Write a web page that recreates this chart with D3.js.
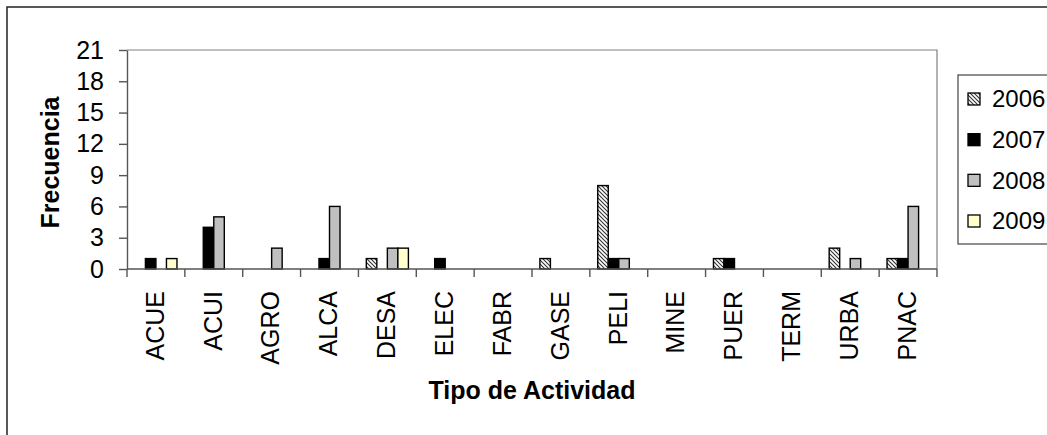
<!DOCTYPE html>
<html>
<head>
<meta charset="utf-8">
<script src="https://cdn.jsdelivr.net/npm/d3@7"></script>
<style>
  html, body { margin: 0; padding: 0; background: #fff; }
  svg { display: block; font-family: "Liberation Sans", Arial, sans-serif; }
</style>
</head>
<body>
<svg id="chart" width="1047" height="435"></svg>
<script>
// Activity codes along the x axis
const categories = ["ACUE", "ACUI", "AGRO", "ALCA", "DESA", "ELEC", "FABR",
                    "GASE", "PELI", "MINE", "PUER", "TERM", "URBA", "PNAC"];
const years = ["2006", "2007", "2008", "2009"];

// Frequency per activity, one array per year
const values2006 = [0, 0, 0, 0, 1, 0, 0, 1, 8, 0, 1, 0, 2, 1];
const values2007 = [1, 4, 0, 1, 0, 1, 0, 0, 1, 0, 1, 0, 0, 1];
const values2008 = [0, 5, 2, 6, 2, 0, 0, 0, 1, 0, 0, 0, 1, 6];
const values2009 = [1, 0, 0, 0, 2, 0, 0, 0, 0, 0, 0, 0, 0, 0];

const yTicks = [0, 3, 6, 9, 12, 15, 18, 21];

const seriesValues = { "2006": values2006, "2007": values2007, "2008": values2008, "2009": values2009 };
const fills = { "2006": "url(#hatch2006)", "2007": "#000000", "2008": "#C0C0C0", "2009": "#FFFFCC" };

const svg = d3.select("#chart");
const plot = { left: 127, right: 937, top: 50, bottom: 269 };

// Diagonal hatch for 2006
const defs = svg.append("defs");
const pat = defs.append("pattern")
  .attr("id", "hatch2006")
  .attr("patternUnits", "userSpaceOnUse")
  .attr("width", 4).attr("height", 4);
pat.append("rect").attr("width", 4).attr("height", 4).attr("fill", "#fff");
pat.append("path")
  .attr("d", "M0,0 L4,4 M-1,3 L1,5 M3,-1 L5,1")
  .attr("stroke", "#333").attr("stroke-width", 1.1);

// Chart area border
svg.append("rect")
  .attr("x", 7).attr("y", 7).attr("width", 1060).attr("height", 440)
  .attr("fill", "none").attr("stroke", "#222").attr("stroke-width", 1.5);

const x = d3.scaleBand().domain(categories).range([plot.left, plot.right]).padding(0);
const bw = x.bandwidth();
const inner = bw * 0.75 / 5.5;
const xs = d3.scaleBand().domain(years).range([inner, bw - inner]).padding(0);
const y = d3.scaleLinear().domain([0, 21]).range([plot.bottom, plot.top]);

// Plot area frame (top and right)
svg.append("path")
  .attr("d", `M${plot.left},${plot.top}H${plot.right}V${plot.bottom}`)
  .attr("fill", "none").attr("stroke", "#808080").attr("stroke-width", 1.2);

// Bars
const barData = [];
categories.forEach((c, i) => {
  years.forEach(yr => {
    const v = seriesValues[yr][i];
    if (v > 0) barData.push({ cat: c, year: yr, value: v });
  });
});
svg.append("g").selectAll("rect")
  .data(barData)
  .join("rect")
  .attr("x", d => x(d.cat) + xs(d.year))
  .attr("y", d => y(d.value))
  .attr("width", xs.bandwidth())
  .attr("height", d => y(0) - y(d.value))
  .attr("fill", d => fills[d.year])
  .attr("stroke", "#000")
  .attr("stroke-width", 1.4);

// Y axis
const yAxis = svg.append("g")
  .attr("transform", `translate(${plot.left},0)`)
  .call(d3.axisLeft(y).tickValues(yTicks).tickSize(8).tickPadding(15).tickSizeOuter(0));
yAxis.select(".domain").attr("stroke", "#555").attr("stroke-width", 1.4);
yAxis.selectAll(".tick line").attr("stroke", "#555").attr("stroke-width", 1.4);
yAxis.selectAll(".tick text")
  .attr("font-size", 25).attr("fill", "#000")
  .attr("font-family", "Liberation Sans, Arial, sans-serif");

// X axis line and boundary ticks
const xAxisG = svg.append("g");
xAxisG.append("line")
  .attr("x1", plot.left).attr("x2", plot.right)
  .attr("y1", plot.bottom).attr("y2", plot.bottom)
  .attr("stroke", "#555").attr("stroke-width", 1.4);
const boundaries = categories.map(c => x(c)).concat([plot.right]);
xAxisG.selectAll("line.tk")
  .data(boundaries)
  .join("line")
  .attr("class", "tk")
  .attr("x1", d => d).attr("x2", d => d)
  .attr("y1", plot.bottom).attr("y2", plot.bottom + 8)
  .attr("stroke", "#555").attr("stroke-width", 1.4);

// Rotated category labels
xAxisG.selectAll("text")
  .data(categories)
  .join("text")
  .attr("transform", d => `translate(${x(d) + bw / 2 - 1},291) rotate(-90)`)
  .attr("text-anchor", "end")
  .attr("dy", "0.35em")
  .attr("font-size", 25)
  .text(d => d);

// Axis titles
svg.append("text")
  .attr("x", (plot.left + plot.right) / 2)
  .attr("y", 399)
  .attr("text-anchor", "middle")
  .attr("font-size", 25).attr("font-weight", "bold")
  .text("Tipo de Actividad");
svg.append("text")
  .attr("transform", `translate(59,${(plot.top + plot.bottom) / 2 + 3}) rotate(-90)`)
  .attr("text-anchor", "middle")
  .attr("font-size", 25).attr("font-weight", "bold")
  .text("Frecuencia");

// Legend (its right edge runs past the chart area)
const legend = svg.append("g");
legend.append("rect")
  .attr("x", 958).attr("y", 75).attr("width", 140).attr("height", 169)
  .attr("fill", "#fff").attr("stroke", "#444").attr("stroke-width", 1.2);
const rowY = d3.scalePoint().domain(years).range([99, 221]);
const items = legend.selectAll("g.item").data(years).join("g")
  .attr("class", "item")
  .attr("transform", d => `translate(0,${rowY(d)})`);
items.append("rect")
  .attr("x", 968).attr("y", -6).attr("width", 12).attr("height", 12)
  .attr("fill", d => fills[d]).attr("stroke", "#000").attr("stroke-width", 1.3);
items.append("text")
  .attr("x", 992).attr("y", 0).attr("dy", "0.35em")
  .attr("font-size", 24)
  .text(d => d);
</script>
</body>
</html>
